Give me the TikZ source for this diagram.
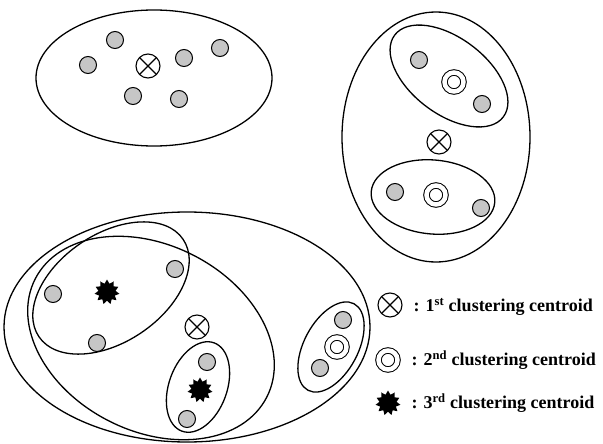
\documentclass[tikz,border=0pt]{standalone}
\usepackage{fontspec}
\setmainfont{Liberation Serif}
\usetikzlibrary{shapes.geometric}
\tikzset{
	dot/.style={circle,draw,line width=1pt,fill=gray!45,minimum size=17,inner sep=0pt},
	cen1/.style={circle,draw,line width=1.1pt,fill=white,minimum size=24,inner sep=0pt,
		path picture={\draw[line width=1.1pt] (path picture bounding box.north west)--(path picture bounding box.south east)
			(path picture bounding box.north east)--(path picture bounding box.south west);}},
	cen2/.style={circle,draw,line width=1pt,double,double distance=4.5pt,fill=white,minimum size=19,inner sep=0pt},
	cen3/.style={star,star points=11,star point ratio=1.45,fill=black,minimum size=25,inner sep=0pt},
	lbl/.style={anchor=west,font=\fontsize{18}{22}\selectfont\bfseries,inner sep=0pt}
}
\begin{document}
\begin{tikzpicture}[x=1pt,y=-1pt,line width=1.3pt]
	\useasboundingbox (0,0) rectangle (603,444);
	% clusters
	\draw (154,78) ellipse [x radius=118, y radius=68];
	\draw (436,137) ellipse [x radius=94, y radius=125];
	\draw[rotate around={-37:(449,76)}] (449,76) ellipse [x radius=68, y radius=38];
	\draw[rotate around={-5:(433,197)}] (433,197) ellipse [x radius=62, y radius=37];
	\draw (187,327) ellipse [x radius=183, y radius=115];
	\draw[rotate around={-27:(151,338)}] (151,338) ellipse [x radius=130, y radius=93];
	\draw[rotate around={34:(111,288)}] (111,288) ellipse [x radius=87, y radius=54];
	\draw[rotate around={70:(198,387)}] (198,387) ellipse [x radius=47, y radius=29];
	\draw[rotate around={62:(331,347)}] (331,347) ellipse [x radius=49, y radius=27];
	% data points
	\foreach \x/\y [count=\i] in {115/40,88/65,184/58,220/48,133/96,179/99,
		419/60,482/104,395/192,481/208,
		53/294,175/269,97/343,207/362,187/419,343/320,320/368}
		\node[dot] (p\i) at (\x,\y) {};
	% centroids
	\node[cen1] (ca) at (148,66) {};
	\node[cen1] (cb) at (439,142) {};
	\node[cen1] (cc) at (197,327) {};
	\node[cen2] (da) at (454,82) {};
	\node[cen2] (db) at (436,195) {};
	\node[cen2] (dc) at (337,347) {};
	\node[cen3] (sa) at (107,292) {};
	\node[cen3] (sb) at (200,390) {};
	% legend
	\node[cen1] (k1) at (390,305) {};
	\node[cen2] (k2) at (388,360) {};
	\node[cen3] (k3) at (388,403) {};
	\node[lbl] (t1) at (413,307) {: 1\textsuperscript{st} clustering centroid};
	\node[lbl] (t2) at (411,360) {: 2\textsuperscript{nd} clustering centroid};
	\node[lbl] (t3) at (411,403) {: 3\textsuperscript{rd} clustering centroid};
\end{tikzpicture}
\end{document}
